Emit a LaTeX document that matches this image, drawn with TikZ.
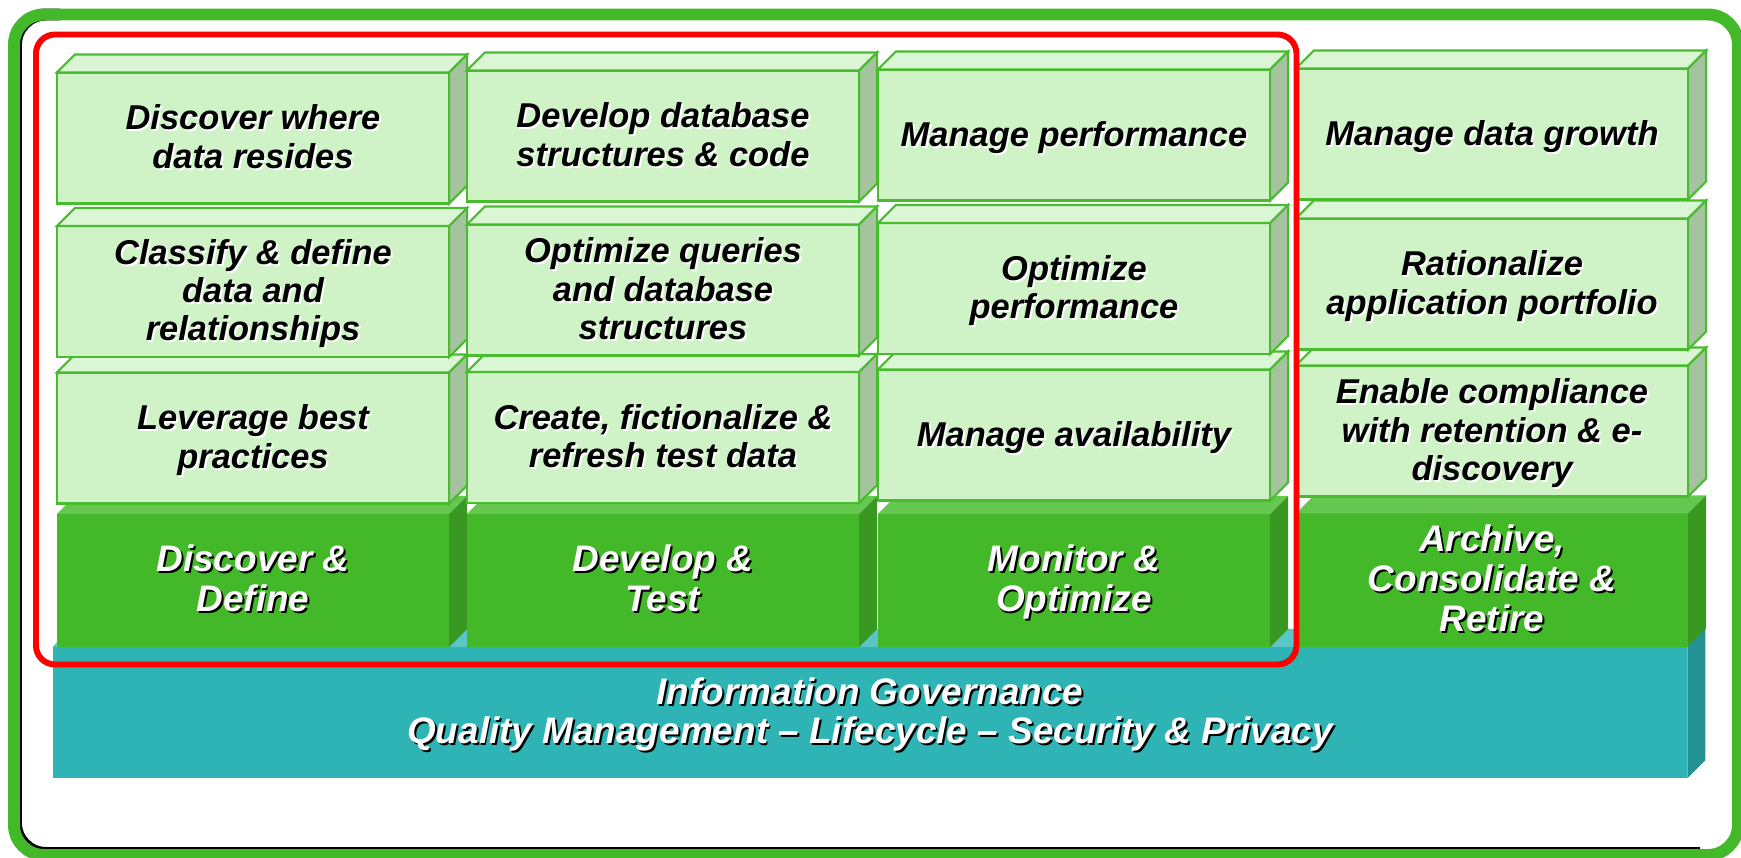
\documentclass[tikz,border=0pt]{standalone}
\usepackage{fontspec}
\setmainfont{Liberation Sans}

\definecolor{paleFront}{RGB}{207,242,199}
\definecolor{paleTop}{RGB}{219,246,213}
\definecolor{paleSide}{RGB}{165,195,158}
\definecolor{edgeGreen}{RGB}{72,188,46}
\definecolor{greenFront}{RGB}{67,185,41}
\definecolor{greenTop}{RGB}{102,199,80}
\definecolor{greenSide}{RGB}{56,152,34}
\definecolor{tealFront}{RGB}{46,180,180}
\definecolor{tealTop}{RGB}{92,198,198}
\definecolor{tealSide}{RGB}{36,146,146}
\definecolor{frameGreen}{RGB}{67,185,41}

% text with a small drop shadow, set a little low in its face
\newcommand{\shadowlabel}[2]{%
  \raisebox{-1.25pt}[\height][\depth]{%
  \rlap{\kern0.55pt\raisebox{-0.55pt}{\color{#1}\begin{tabular}[b]{@{}c@{}}#2\end{tabular}}}%
  \begin{tabular}[b]{@{}c@{}}#2\end{tabular}}}

% front face as a node, then its top and side
\newcommand{\slab}[5]{%
  \node[#1box] (#2) at (#3,#4) {#5};
  \path[#1top] (#2.north west) -- ++(18,-18) -- ([shift={(18,-18)}]#2.north east) -- (#2.north east) -- cycle;
  \path[#1side] (#2.north east) -- ++(18,-18) -- ([shift={(18,-18)}]#2.south east) -- (#2.south east) -- cycle;}

\tikzset{
  blockface/.style={inner sep=0pt, outer sep=0pt, align=center},
  litebox/.style={blockface, fill=paleFront, draw=edgeGreen, line width=0.6pt, text=black,
    minimum width=3.92cm, minimum height=1.31cm, font=\fontsize{9.8}{10.9}\selectfont\bfseries\itshape},
  litetop/.style={fill=paleTop, draw=edgeGreen, line width=0.6pt},
  liteside/.style={fill=paleSide, draw=edgeGreen, line width=0.6pt},
  basebox/.style={blockface, fill=greenFront, text=white,
    minimum width=3.92cm, minimum height=1.33cm, font=\fontsize{10.5}{11.4}\selectfont\bfseries\itshape},
  basetop/.style={fill=greenTop},
  baseside/.style={fill=greenSide},
  govbox/.style={blockface, fill=tealFront, text=white,
    minimum width=16.34cm, minimum height=1.31cm, font=\fontsize{10.5}{11.1}\selectfont\bfseries\itshape},
  govtop/.style={fill=tealTop},
  govside/.style={fill=tealSide},
  redframe/.style={draw=red, line width=1.7pt, rounded corners=0.19cm}
}

\begin{document}
\begin{tikzpicture}[x=0.01cm,y=-0.01cm]
\useasboundingbox (0,0) rectangle (1741,858);

% outer frame
\draw[black,line width=3.4pt,rounded corners=0.3cm] (60,14.5) -- (16,14.5) -- (16,853) -- (1700,853);
\draw[frameGreen,line width=3.4pt,rounded corners=0.3cm] (14,14.5) rectangle (1738,855);

% governance bar
\slab{gov}{gov}{870}{712.5}{\shadowlabel{black}{Information Governance\\Quality Management -- Lifecycle -- Security \& Privacy}}

% discover & define
\slab{base}{discdef}{253}{580.5}{\shadowlabel{black}{Discover \&\\Define}}
\slab{lite}{leverage}{253}{438}{\shadowlabel{white}{Leverage best\\practices}}
\slab{lite}{classify}{253}{291.5}{\shadowlabel{white}{Classify \& define\\data and\\relationships}}
\slab{lite}{discover}{253}{138}{\shadowlabel{white}{Discover where\\data resides}}

% develop & test
\slab{base}{devtest}{663}{580.5}{\shadowlabel{black}{Develop \&\\Test}}
\slab{lite}{create}{663}{437.5}{\shadowlabel{white}{Create, fictionalize \&\\refresh test data}}
\slab{lite}{optquery}{663}{290}{\shadowlabel{white}{Optimize queries\\and database\\structures}}
\slab{lite}{develop}{663}{136}{\shadowlabel{white}{Develop database\\structures \& code}}

% monitor & optimize
\slab{base}{monopt}{1074}{580.5}{\shadowlabel{black}{Monitor \&\\Optimize}}
\slab{lite}{avail}{1074}{435}{\shadowlabel{white}{Manage availability}}
\slab{lite}{optperf}{1074}{288.5}{\shadowlabel{white}{Optimize\\performance}}
\slab{lite}{manperf}{1074}{135}{\shadowlabel{white}{Manage performance}}

% archive, consolidate & retire
\slab{base}{archive}{1492}{580}{\shadowlabel{black}{Archive,\\Consolidate \&\\Retire}}
\slab{lite}{comply}{1492}{431}{\shadowlabel{white}{Enable compliance\\with retention \& e-\\discovery}}
\slab{lite}{rational}{1492}{284}{\shadowlabel{white}{Rationalize\\application portfolio}}
\slab{lite}{growth}{1492}{134}{\shadowlabel{white}{Manage data growth}}

% first three stages
\draw[redframe] (36,34.5) rectangle (1296.5,664.5);
\end{tikzpicture}
\end{document}
